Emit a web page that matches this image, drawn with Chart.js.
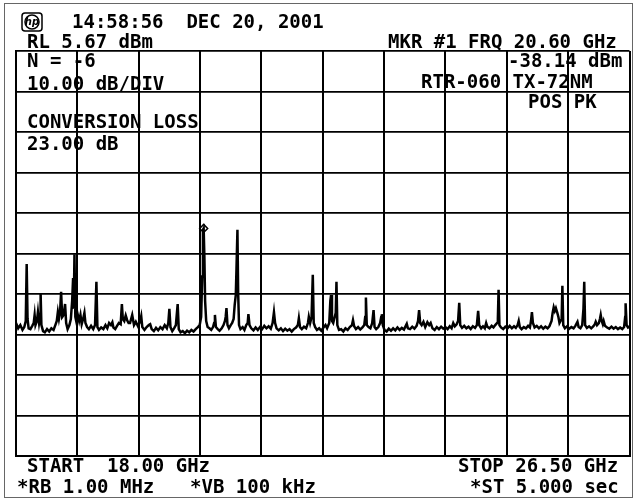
<!DOCTYPE html>
<html>
<head>
<meta charset="utf-8">
<script src="https://cdn.jsdelivr.net/npm/chart.js@4/dist/chart.umd.min.js"></script>
<style>
  html, body { margin: 0; padding: 0; background: #fff; }
  #wrap { width: 635px; height: 500px; position: relative; }
</style>
</head>
<body>
<div id="wrap"><canvas id="analyzer" width="635" height="500"></canvas></div>
<script>
// sweep 18.00 - 26.50 GHz, reference level 5.67 dBm, 10 dB/div
const freqTicks = [18, 18.85, 19.7, 20.55, 21.4, 22.25, 23.1, 23.95, 24.8, 25.65, 26.5];
const levelTicks = [5.67, -4.33, -14.33, -24.33, -34.33, -44.33, -54.33, -64.33, -74.33, -84.33, -94.33];

// trace (GHz / dBm)
const traceGHz = [
  18.000, 18.030, 18.060, 18.090, 18.115, 18.135, 18.148, 18.160, 18.175, 18.200,
  18.225, 18.245, 18.258, 18.270, 18.290, 18.304, 18.320, 18.334, 18.341, 18.352,
  18.375, 18.400, 18.430, 18.460, 18.490, 18.520, 18.545, 18.565, 18.580, 18.595,
  18.610, 18.625, 18.640, 18.660, 18.680, 18.695, 18.715, 18.740, 18.760, 18.778,
  18.791, 18.800, 18.810, 18.822, 18.840, 18.860, 18.875, 18.893, 18.910, 18.930,
  18.948, 18.962, 18.985, 19.010, 19.040, 19.070, 19.095, 19.114, 19.128, 19.150,
  19.180, 19.210, 19.240, 19.265, 19.290, 19.315, 19.335, 19.350, 19.375, 19.400,
  19.425, 19.450, 19.467, 19.480, 19.500, 19.520, 19.540, 19.560, 19.580, 19.610,
  19.635, 19.660, 19.690, 19.720, 19.735, 19.750, 19.780, 19.810, 19.840, 19.859,
  19.880, 19.910, 19.940, 19.970, 20.000, 20.030, 20.060, 20.090, 20.110, 20.125,
  20.140, 20.165, 20.190, 20.215, 20.240, 20.255, 20.280, 20.310, 20.340, 20.370,
  20.400, 20.430, 20.460, 20.490, 20.520, 20.545, 20.565, 20.580, 20.590, 20.600,
  20.610, 20.620, 20.635, 20.655, 20.680, 20.705, 20.730, 20.745, 20.756, 20.770,
  20.795, 20.820, 20.850, 20.875, 20.895, 20.905, 20.916, 20.930, 20.950, 20.975,
  20.995, 21.015, 21.030, 21.045, 21.055, 21.068, 21.078, 21.090, 21.110, 21.140,
  21.165, 21.190, 21.210, 21.220, 21.235, 21.260, 21.290, 21.320, 21.350, 21.380,
  21.410, 21.440, 21.470, 21.500, 21.530, 21.555, 21.574, 21.590, 21.610, 21.640,
  21.670, 21.700, 21.730, 21.760, 21.790, 21.820, 21.850, 21.880, 21.905, 21.919,
  21.935, 21.960, 21.990, 22.020, 22.045, 22.057, 22.075, 22.095, 22.112, 22.125,
  22.145, 22.170, 22.200, 22.230, 22.260, 22.288, 22.310, 22.340, 22.355, 22.365,
  22.378, 22.395, 22.430, 22.440, 22.452, 22.475, 22.505, 22.535, 22.565, 22.595,
  22.625, 22.655, 22.669, 22.685, 22.710, 22.740, 22.770, 22.800, 22.825, 22.838,
  22.848, 22.860, 22.885, 22.910, 22.935, 22.954, 22.968, 22.990, 23.020, 23.045,
  23.060, 23.069, 23.082, 23.105, 23.135, 23.165, 23.195, 23.225, 23.255, 23.285,
  23.315, 23.345, 23.375, 23.400, 23.414, 23.430, 23.460, 23.490, 23.520, 23.550,
  23.570, 23.585, 23.600, 23.620, 23.645, 23.670, 23.700, 23.725, 23.745, 23.770,
  23.800, 23.830, 23.860, 23.890, 23.920, 23.950, 23.980, 24.010, 24.035, 24.058,
  24.080, 24.105, 24.125, 24.141, 24.155, 24.180, 24.210, 24.240, 24.270, 24.300,
  24.330, 24.360, 24.385, 24.403, 24.418, 24.445, 24.470, 24.495, 24.514, 24.530,
  24.560, 24.590, 24.615, 24.640, 24.665, 24.676, 24.686, 24.698, 24.720, 24.750,
  24.780, 24.810, 24.840, 24.870, 24.900, 24.925, 24.950, 24.965, 24.980, 25.005,
  25.035, 25.065, 25.095, 25.120, 25.135, 25.148, 25.162, 25.185, 25.215, 25.245,
  25.275, 25.305, 25.335, 25.365, 25.390, 25.420, 25.435, 25.450, 25.465, 25.480,
  25.500, 25.515, 25.530, 25.560, 25.570, 25.582, 25.605, 25.635, 25.665, 25.695,
  25.725, 25.750, 25.770, 25.779, 25.795, 25.820, 25.845, 25.862, 25.873, 25.885,
  25.910, 25.940, 25.970, 26.000, 26.020, 26.032, 26.050, 26.075, 26.090, 26.101,
  26.115, 26.130, 26.142, 26.160, 26.190, 26.220, 26.250, 26.280, 26.310, 26.340,
  26.370, 26.400, 26.425, 26.440, 26.446, 26.460, 26.480, 26.500
];
const traceDbm = [
  -61.5, -62.8, -62.0, -63.2, -62.5, -61.0, -46.9, -60.5, -62.8, -63.0,
  -62.2, -61.5, -59.5, -62.0, -61.0, -58.8, -61.5, -60.0, -54.1, -62.0,
  -63.5, -63.8, -63.0, -63.6, -62.8, -63.2, -62.0, -61.0, -58.8, -60.5,
  -59.0, -53.8, -60.0, -59.5, -56.8, -61.5, -63.0, -62.0, -60.5, -56.0,
  -50.4, -58.0, -44.5, -60.0, -61.5, -59.8, -61.0, -59.5, -61.8, -60.5,
  -59.0, -61.5, -62.5, -63.0, -62.2, -63.0, -62.0, -51.3, -62.5, -63.2,
  -62.6, -63.0, -62.0, -62.8, -61.5, -62.0, -61.3, -62.6, -63.0, -62.2,
  -61.5, -61.8, -56.8, -60.5, -61.0, -59.6, -60.8, -61.5, -61.5, -59.5,
  -62.0, -61.2, -62.3, -61.0, -59.8, -62.5, -63.2, -62.5, -62.0, -61.8,
  -63.0, -63.5, -62.7, -63.3, -62.5, -63.0, -62.0, -62.8, -61.5, -58.0,
  -62.5, -63.5, -62.8, -62.0, -56.8, -63.0, -63.8, -63.5, -64.0, -63.4,
  -63.8, -63.2, -63.6, -63.0, -62.5, -62.0, -60.0, -50.0, -38.5, -38.14,
  -45.0, -56.0, -61.0, -62.5, -62.8, -63.2, -62.5, -61.5, -59.5, -62.5,
  -63.0, -63.4, -62.8, -62.0, -61.0, -60.0, -57.8, -62.0, -62.8, -62.0,
  -61.5, -60.5, -57.0, -54.6, -48.0, -38.5, -54.0, -62.0, -63.0, -62.5,
  -63.2, -62.0, -61.5, -59.3, -62.0, -62.8, -63.3, -62.6, -63.2, -62.5,
  -63.0, -62.2, -62.8, -62.3, -62.9, -61.5, -58.8, -61.5, -62.8, -63.3,
  -62.8, -63.5, -62.9, -63.4, -63.0, -63.6, -63.0, -62.6, -62.0, -60.3,
  -62.5, -63.0, -62.4, -62.8, -61.5, -60.0, -61.5, -60.0, -49.6, -61.5,
  -62.5, -63.2, -62.8, -63.4, -62.6, -62.0, -62.8, -61.5, -56.0, -54.6,
  -61.0, -61.5, -59.0, -51.3, -62.0, -63.2, -63.0, -63.6, -62.8, -63.2,
  -62.5, -62.0, -60.8, -62.3, -63.0, -62.5, -63.1, -62.6, -62.0, -60.0,
  -55.2, -62.0, -62.5, -62.8, -61.5, -58.3, -62.5, -63.0, -62.5, -61.5,
  -60.0, -59.3, -62.0, -63.2, -63.6, -62.9, -63.4, -62.8, -63.3, -62.6,
  -63.2, -62.7, -63.1, -62.2, -61.7, -62.8, -63.0, -62.4, -62.9, -62.2,
  -61.0, -58.3, -61.5, -62.0, -61.2, -62.5, -61.3, -62.0, -61.5, -62.8,
  -63.2, -62.5, -63.0, -62.4, -62.9, -62.5, -63.0, -62.3, -62.8, -61.5,
  -62.3, -61.8, -61.0, -56.5, -62.0, -62.7, -62.2, -62.8, -62.4, -63.0,
  -62.3, -62.7, -62.0, -58.5, -62.0, -62.8, -62.3, -62.8, -61.5, -62.4,
  -62.8, -62.2, -62.6, -62.0, -61.5, -60.5, -53.3, -62.0, -62.6, -63.0,
  -62.4, -62.8, -62.2, -62.8, -62.3, -62.7, -62.0, -61.0, -62.5, -63.0,
  -62.5, -62.8, -62.2, -62.6, -61.0, -58.8, -61.5, -62.6, -62.2, -62.8,
  -62.3, -62.9, -62.4, -62.8, -62.3, -61.0, -59.0, -57.6, -58.5, -57.8,
  -59.0, -60.0, -61.5, -60.5, -52.3, -62.0, -62.8, -62.3, -62.9, -62.5,
  -62.8, -62.2, -61.5, -61.2, -62.5, -62.8, -62.0, -58.0, -51.3, -62.0,
  -62.7, -62.3, -62.8, -62.3, -61.8, -61.2, -62.0, -61.5, -60.5, -59.5,
  -61.0, -61.8, -61.0, -62.2, -62.6, -62.9, -62.4, -62.9, -62.5, -63.0,
  -62.6, -63.0, -62.5, -60.0, -56.6, -62.0, -62.6, -62.4
];

// marker #1
const markerGHz = [20.60];
const markerDbm = [-38.14];

const FONT = 'bold 19px "DejaVu Sans Mono"';

// screen annotations (text, x, baseline)
const screenText = [
  ['14:58:56  DEC 20, 2001', 72, 28],
  ['RL 5.67 dBm', 27, 48],
  ['MKR #1 FRQ 20.60 GHz', 388, 48],
  ['N = -6', 27, 67],
  ['10.00 dB/DIV', 27, 90],
  ['CONVERSION LOSS', 27, 128],
  ['23.00 dB', 27, 150],
  ['-38.14 dBm', 508, 67],
  ['RTR-060 TX-72NM', 421, 88],
  ['POS PK', 528, 108],
  ['START  18.00 GHz', 27, 472],
  ['STOP 26.50 GHz', 458, 472],
  ['*RB 1.00 MHz', 17, 493],
  ['*VB 100 kHz', 190, 493],
  ['*ST 5.000 sec', 470, 493]
];

const screenPlugin = {
  id: 'screen',
  beforeDraw(chart) {
    const ctx = chart.ctx;
    ctx.save();
    ctx.fillStyle = '#fff';
    ctx.fillRect(0, 0, chart.width, chart.height);
    ctx.restore();
  },
  afterDraw(chart) {
    const ctx = chart.ctx;
    ctx.save();
    // outer frame
    ctx.strokeStyle = '#666';
    ctx.lineWidth = 1;
    ctx.strokeRect(4.5, 3.5, 628, 494);

    // hp logo
    ctx.strokeStyle = '#000';
    ctx.lineWidth = 1.5;
    ctx.beginPath();
    ctx.roundRect(22, 13, 20, 18, 3);
    ctx.stroke();
    ctx.beginPath();
    ctx.arc(32, 22, 7, 0, Math.PI * 2);
    ctx.stroke();
    ctx.fillStyle = '#000';
    ctx.font = 'italic bold 10px "DejaVu Sans"';
    ctx.textAlign = 'center';
    ctx.textBaseline = 'middle';
    ctx.fillText('hp', 32, 22.5);

    ctx.font = FONT;
    ctx.textAlign = 'left';
    ctx.textBaseline = 'alphabetic';
    screenText.forEach(([t, x, y]) => ctx.fillText(t, x, y));
    ctx.restore();
  }
};

const trace = traceGHz.map((f, i) => ({ x: f, y: traceDbm[i] }));
const marker = markerGHz.map((f, i) => ({ x: f, y: markerDbm[i] }));

new Chart(document.getElementById('analyzer'), {
  type: 'line',
  data: {
    datasets: [
      {
        data: marker,
        showLine: false,
        pointStyle: 'rectRot',
        pointRadius: 4,
        pointBorderWidth: 1.5,
        pointBorderColor: '#000',
        pointBackgroundColor: 'rgba(0,0,0,0)'
      },
      {
        data: trace,
        borderColor: '#000',
        borderWidth: 2.5,
        pointRadius: 0,
        tension: 0
      }
    ]
  },
  options: {
    responsive: false,
    animation: false,
    layout: { padding: { left: 16, top: 51, right: 3, bottom: 44 } },
    plugins: { legend: { display: false }, tooltip: { enabled: false } },
    scales: {
      x: {
        type: 'linear',
        min: 18,
        max: 26.5,
        afterBuildTicks: s => { s.ticks = freqTicks.map(v => ({ value: v })); },
        ticks: { display: false },
        grid: { color: '#000', lineWidth: 2, drawTicks: false },
        border: { display: true, color: '#000', width: 2 }
      },
      y: {
        min: -94.33,
        max: 5.67,
        afterBuildTicks: s => { s.ticks = levelTicks.map(v => ({ value: v })); },
        ticks: { display: false },
        grid: { color: '#000', lineWidth: 1.8, drawTicks: false },
        border: { display: true, color: '#000', width: 2 }
      }
    }
  },
  plugins: [screenPlugin]
});
</script>
</body>
</html>
